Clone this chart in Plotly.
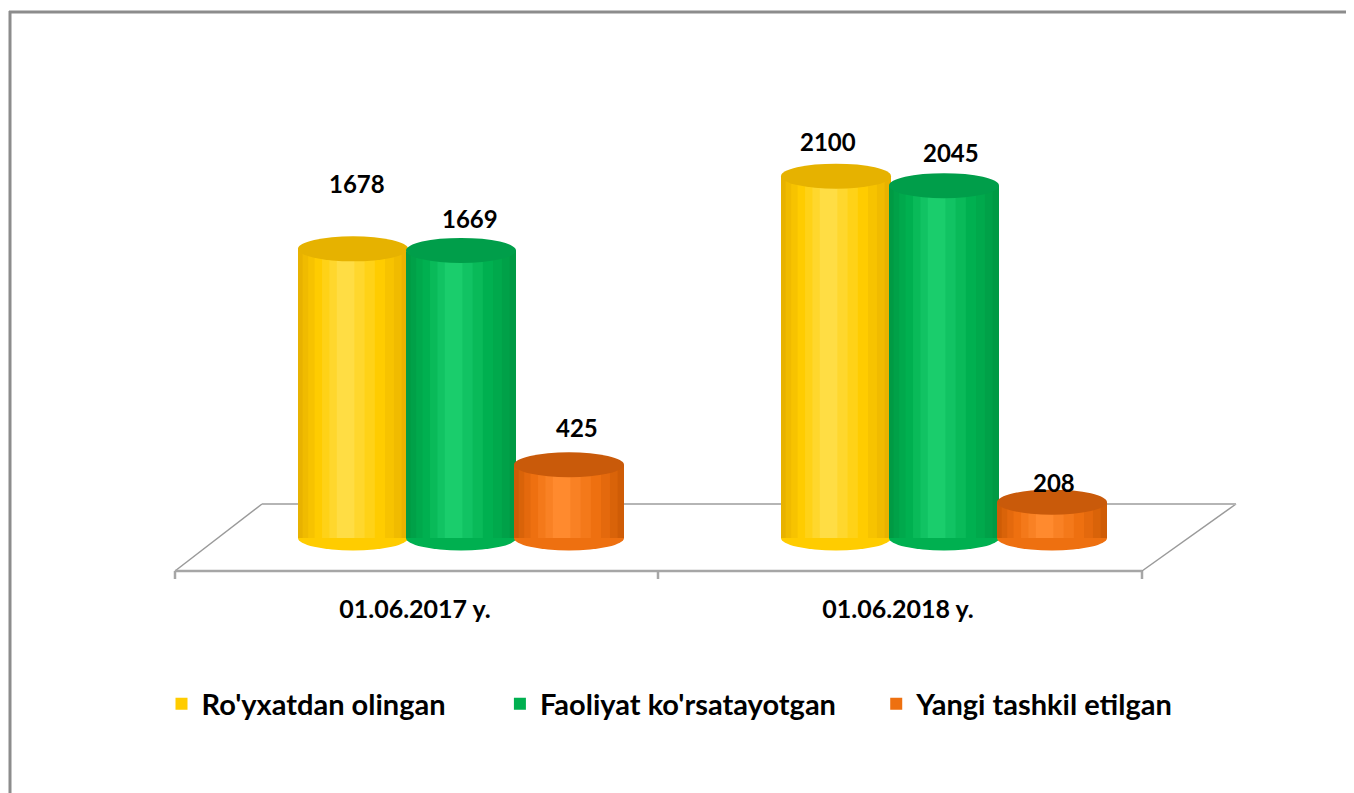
import plotly.graph_objects as go

# ---- data ----
categories = ["01.06.2017 y.", "01.06.2018 y."]
series_names = ["Ro'yxatdan olingan", "Faoliyat ko'rsatayotgan", "Yangi tashkil etilgan"]
registered = [1678, 2100]
active = [1669, 2045]
new_created = [425, 208]

# ---- style ----
OFF = 8  # page body margin
W, H = 1354 - OFF, 793 - OFF
# plot area in page pixels
L_PX, R_PX, T_PX, ZERO_PX, B_PX = 175, 1240, 90, 538, 566
Y_MAX = 2600
PX_PER_Y = (ZERO_PX - T_PX) / Y_MAX
Y_MIN = -(B_PX - ZERO_PX) / PX_PER_Y
X_MIN, X_MAX = -(461 - L_PX) / 483, (R_PX - 461) / 483
PX_PER_X = (R_PX - L_PX) / (X_MAX - X_MIN)

def px2x(px):
    return (px - L_PX) / (R_PX - L_PX)

def px2y(py):
    return (B_PX - py) / (B_PX - T_PX)

def hex2rgb(h):
    h = h.lstrip("#")
    return [int(h[k:k + 2], 16) for k in (0, 2, 4)]

def mix(a, b, t):
    ra, rb = hex2rgb(a), hex2rgb(b)
    return "#" + "".join(f"{round(ra[k] + (rb[k] - ra[k]) * t):02X}" for k in range(3))

colors_mid = ["#FFCC00", "#00B050", "#EE7010"]
colors_edge = ["#E8B200", "#009A44", "#CF5C06"]
colors_light = ["#FFDD44", "#1ACD6C", "#FF8A2E"]
colors_top = ["#E6B200", "#009E4A", "#C95A0A"]
N_BANDS = 7
band_w = [1.0, 0.9, 0.78, 0.64, 0.48, 0.32, 0.16]
band_shift = -0.08

bar_w = 110 / PX_PER_X
step = 108 / PX_PER_X
ell_h = 12.5 / PX_PER_Y  # half-height of ellipse in data units

# label nudges in pixels (dx, dy) per series per category
label_nudge = [[(4, 65), (-8, 35)], [(9, 32), (7, 33)], [(8, 37), (2, 20)]]

fig = go.Figure()
shapes = []
annotations = []
all_series = [registered, active, new_created]
xs = list(range(len(categories)))
legend_pad = ["\u00a0" * 7, "\u00a0" * 5, ""]

for i, (name, vals) in enumerate(zip(series_names, all_series)):
    off = (i - 1) * step
    for k in range(N_BANDS):
        if k <= 3:
            col = mix(colors_edge[i], colors_mid[i], k / 3)
        else:
            col = mix(colors_mid[i], colors_light[i], (k - 3) / 3)
        bw = bar_w * band_w[k]
        c = off + bar_w * band_shift * (1 - band_w[k])
        fig.add_trace(go.Bar(
            x=xs, y=vals, name=name + legend_pad[i], width=bw, offset=c - bw / 2,
            marker=dict(color=col, line=dict(width=0)),
            hovertemplate=name + ": %{y}<extra></extra>" if k == 3 else None,
            hoverinfo=None if k == 3 else "skip",
            showlegend=(k == 3),
        ))
    for j, v in enumerate(vals):
        cx = xs[j] + off
        # bottom ellipse
        shapes.append(dict(type="circle", xref="x", yref="y", layer="below",
                           x0=cx - bar_w / 2, x1=cx + bar_w / 2, y0=-ell_h, y1=ell_h,
                           fillcolor=colors_mid[i], line=dict(width=0)))
        # top ellipse
        shapes.append(dict(type="circle", xref="x", yref="y", layer="above",
                           x0=cx - bar_w / 2, x1=cx + bar_w / 2, y0=v - ell_h, y1=v + ell_h,
                           fillcolor=colors_top[i], line=dict(width=0)))
        dx, dy = label_nudge[i][j]
        annotations.append(dict(x=cx, y=v, xref="x", yref="y", text=f"<b>{v}</b>",
                                showarrow=False, xshift=dx, yshift=dy, yanchor="middle",
                                font=dict(family="Lato", size=24, color="#000000")))

# floor (3D base)
floor_col = "#A6A6A6"
front_y, back_y = 571, 504
fl, fr, bl, br = 175, 1142, 262, 1236
floor_lines = [
    (fl, front_y, fr, front_y, 2.5, floor_col),
    (bl, back_y, br, back_y, 2, "#B5B5B5"),
    (fl, front_y, bl, back_y, 1.5, "#9A9A9A"),
    (fr, front_y, br, back_y, 1.5, "#9A9A9A"),
    (fl, front_y, fl, front_y + 8, 2.5, floor_col),
    (658, front_y, 658, front_y + 8, 2.5, floor_col),
    (fr, front_y, fr, front_y + 8, 2.5, floor_col),
]
for x0, y0, x1, y1, w, c in floor_lines:
    shapes.insert(0, dict(type="line", xref="paper", yref="paper", layer="below",
                          x0=px2x(x0), y0=px2y(y0), x1=px2x(x1), y1=px2y(y1),
                          line=dict(color=c, width=w)))

# outer border (left and top)
border_col = "#8C8C8C"
shapes.append(dict(type="line", xref="paper", yref="paper", x0=px2x(10), x1=px2x(10),
                   y0=px2y(11), y1=px2y(800), line=dict(color=border_col, width=3)))
shapes.append(dict(type="line", xref="paper", yref="paper", x0=px2x(9), x1=px2x(1360),
                   y0=px2y(12), y1=px2y(12), line=dict(color=border_col, width=3)))

fig.update_layout(
    width=W, height=H,
    margin=dict(l=L_PX - OFF, r=(W + OFF) - R_PX, t=T_PX - OFF, b=(H + OFF) - B_PX, pad=0),
    paper_bgcolor="white", plot_bgcolor="rgba(0,0,0,0)",
    barmode="overlay",
    shapes=shapes, annotations=annotations,
    font=dict(family="Lato", color="#000000"),
    xaxis=dict(range=[X_MIN, X_MAX], tickvals=xs, ticktext=[f"<b>{c}</b>" for c in categories],
               showgrid=False, zeroline=False, showline=False, ticks="",
               ticklabelshift=-46, ticklabelstandoff=54 - (B_PX - ZERO_PX),
               tickfont=dict(family="Lato", size=25, color="#000000")),
    yaxis=dict(range=[Y_MIN, Y_MAX], visible=False, showgrid=False, zeroline=False),
    legend=dict(orientation="h", xref="container", yref="container",
                x=(670 - OFF) / W, y=1 - (704 - OFF) / H, xanchor="center", yanchor="middle",
                font=dict(family="Lato", size=29, color="#000000", weight="bold"),
                itemwidth=30, traceorder="normal", bgcolor="rgba(0,0,0,0)"),
    showlegend=True,
)

fig.write_html("out.html")
